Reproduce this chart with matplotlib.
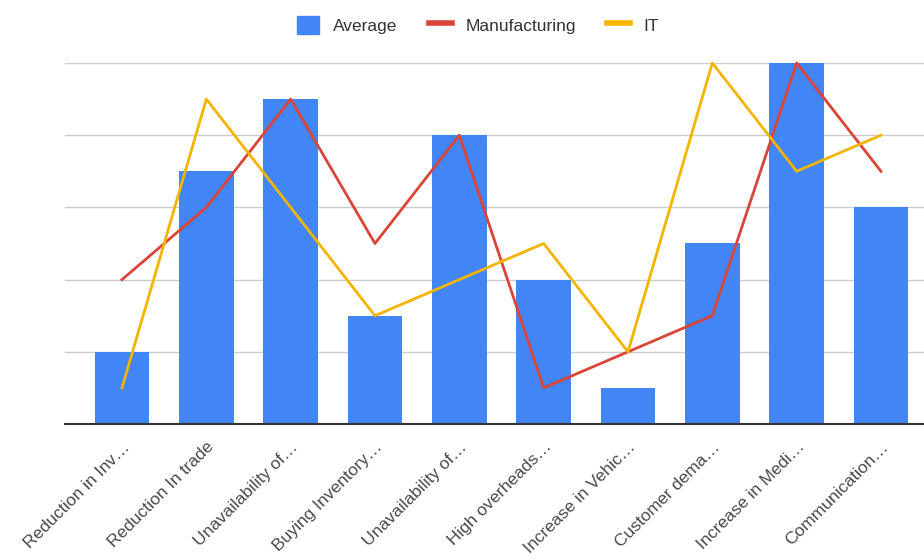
import matplotlib
matplotlib.use("Agg")
import matplotlib.pyplot as plt
from matplotlib.lines import Line2D
from matplotlib.patches import Patch
import numpy as np

categories = ["Reduction in Inv…", "Reduction In trade", "Unavailability of…",
              "Buying Inventory…", "Unavailability of…", "High overheads…",
              "Increase in Vehic…", "Customer dema…", "Increase in Medi…",
              "Communication…"]
average = [1, 3.5, 4.5, 1.5, 4, 2, 0.5, 2.5, 5, 3]
manufacturing = [2, 3, 4.5, 2.5, 4, 0.5, 1, 1.5, 5, 3.5]
it_values = [0.5, 4.5, 3, 1.5, 2, 2.5, 1, 5, 3.5, 4]
grid_levels = [1, 2, 3, 4, 5]

BLUE = "#4285F4"
RED = "#DB4437"
YELLOW = "#F4B400"

plt.rcParams['font.family'] = ['Liberation Sans', 'DejaVu Sans']

fig = plt.figure(figsize=(9.24, 5.6), dpi=100)
ax = fig.add_axes([65/924, 1-424/560, 1-65/924, (424-63)/560])

x = np.arange(len(categories))
ax.bar(x, average, width=0.65, color=BLUE, zorder=2)
ax.plot(x, manufacturing, color=RED, lw=2, zorder=3, clip_on=False)
ax.plot(x, it_values, color=YELLOW, lw=2, zorder=3, clip_on=False)

ax.set_xlim(-0.676, 9.51)
ax.set_ylim(0, 5)
ax.set_yticks(grid_levels)
ax.yaxis.grid(True, color="#cccccc", lw=1, zorder=0)
ax.tick_params(axis='y', left=False, labelleft=False)
ax.tick_params(axis='x', length=0, pad=11)
for s in ["top", "right", "left"]:
    ax.spines[s].set_visible(False)
ax.spines["bottom"].set_color("#333333")
ax.spines["bottom"].set_linewidth(1.5)
ax.spines["bottom"].set_zorder(4)
ax.set_xticks(x)
ax.set_xticklabels(categories, rotation=45, ha="right", rotation_mode="anchor",
                   fontsize=12.5, color="#4a4a4a")

handles = [Patch(facecolor=BLUE, edgecolor=BLUE, label="Average"),
           Line2D([0], [0], color=RED, lw=4, label="Manufacturing"),
           Line2D([0], [0], color=YELLOW, lw=4, label="IT")]
fig.legend(handles=handles, loc="center", bbox_to_anchor=(478/924, 1-25/560),
           ncol=3, frameon=False, fontsize=12.5, handlelength=1.3,
           handleheight=1.3, columnspacing=1.8, handletextpad=0.8,
           labelcolor="#333333")

fig.savefig("out.png", dpi=100, facecolor="white")
